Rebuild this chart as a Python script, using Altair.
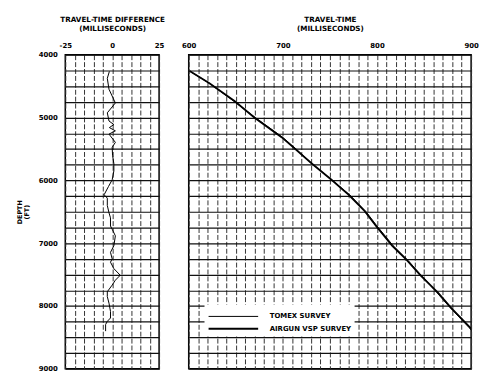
import altair as alt
import pandas as pd

# ---- data ----
diff_depth = [4266, 4376, 4550, 4768, 4925, 5055, 5112, 5160, 5212, 5264, 5395, 5473,
              5600, 5735, 5850, 5991, 6100, 6230, 6283, 6400, 6517, 6597, 6727, 6779,
              6884, 7041, 7146, 7250, 7303, 7406, 7511, 7590, 7668, 7773, 7851, 7956,
              8087, 8192, 8245, 8296, 8401]
diff_ms = [-1.5, -2.6, -1.7, 1.7, -2.6, -1.7, 0.9, -1.5, 1.7, -1.7, 1.7, 0.0,
           0.2, 0.9, 0.9, 0.0, -2.0, -4.3, -2.6, -2.6, -1.7, -0.9, -0.9, 0.0,
           1.7, 0.9, -0.9, 0.0, -0.9, 0.9, 4.3, 1.7, 0.0, -2.6, -2.6, -1.7,
           -0.9, -0.9, -2.6, -3.5, -3.5]

survey_depth = [4260, 4455, 4741, 5003, 5317, 5500, 5735, 5995, 6230, 6492, 6727,
                7038, 7276, 7511, 7793, 8033, 8346, 8400]
airgun_time = [601, 622, 649, 670, 699, 713, 731, 752, 770, 787, 799,
               816, 832, 846, 865, 879, 899, 902]
tomex_time = [601, 622, 648, 671, 700, 714, 731, 752, 771, 788, 800,
              817, 833, 847, 864, 878, 898, 901]

surveys = ["TOMEX SURVEY", "AIRGUN VSP SURVEY"]

depth_ticks = list(range(4000, 9001, 250))
diff_ticks = list(range(-25, 26, 5))
time_ticks = list(range(600, 901, 10))

FONT = "DejaVu Sans"
H = 318

diff_df = pd.DataFrame({"depth": diff_depth, "diff": diff_ms})
rows = []
for d, t in zip(survey_depth, tomex_time):
    rows.append({"depth": d, "time": t, "survey": surveys[0]})
for d, t in zip(survey_depth, airgun_time):
    rows.append({"depth": d, "time": t, "survey": surveys[1]})
surv_df = pd.DataFrame(rows)

yscale = alt.Scale(domain=[4000, 9000], reverse=True, nice=False, zero=False)

left = alt.Chart(diff_df).mark_line(color="black", strokeWidth=1).encode(
    x=alt.X("diff:Q",
            scale=alt.Scale(domain=[-25, 25], nice=False, zero=False),
            axis=alt.Axis(orient="top", values=diff_ticks,
                          labelExpr="datum.value % 25 === 0 ? '' + datum.value : ''",
                          title=["TRAVEL-TIME DIFFERENCE", "(MILLISECONDS)"],
                          ticks=False, domain=False, grid=True,
                          gridDash=[5, 2], gridColor="#333333", gridWidth=1,
                          labelPadding=6, titlePadding=10,
                          labelFlush=False, labelOverlap=False)),
    y=alt.Y("depth:Q", scale=yscale,
            axis=alt.Axis(values=depth_ticks,
                          labelExpr="datum.value % 1000 === 0 ? '' + datum.value : ''",
                          title=["DEPTH", "(FT)"],
                          titleFontSize=6.5, titleLineHeight=6.5,
                          ticks=False, domain=False, grid=True,
                          gridColor="#111111", gridWidth=1.2,
                          labelPadding=8, titlePadding=9,
                          labelFlush=False, labelOverlap=False)),
    order="depth:Q",
).properties(width=95, height=H)

right = alt.Chart(surv_df).mark_line(color="black", clip=True).encode(
    x=alt.X("time:Q",
            scale=alt.Scale(domain=[600, 900], nice=False, zero=False),
            axis=alt.Axis(orient="top", values=time_ticks,
                          labelExpr="datum.value % 100 === 0 ? '' + datum.value : ''",
                          title=["TRAVEL-TIME", "(MILLISECONDS)"],
                          ticks=False, domain=False, grid=True,
                          gridDash=[5, 2], gridColor="#333333", gridWidth=1,
                          labelPadding=6, titlePadding=10,
                          labelFlush=False, labelOverlap=False)),
    y=alt.Y("depth:Q", scale=yscale,
            axis=alt.Axis(values=depth_ticks, labels=False, ticks=False,
                          domain=False, title=None, grid=True,
                          gridColor="#111111", gridWidth=1.2)),
    strokeWidth=alt.StrokeWidth(
        "survey:N",
        scale=alt.Scale(domain=surveys, range=[1.0, 1.8]),
        legend=alt.Legend(orient="none", legendX=141, legendY=253, title=None,
                          symbolType="M-1,0H5", symbolSize=280,
                          symbolStrokeColor="black",
                          labelFont=FONT, labelFontSize=7, labelFontWeight="bold",
                          labelColor="black", labelOffset=44,
                          fillColor="white", padding=3, rowPadding=0)),
    order="depth:Q",
).properties(width=286, height=H)

chart = alt.hconcat(left, right, spacing=30, bounds="flush").properties(
    padding={"left": 8, "top": 4, "right": 0, "bottom": 0}
).configure_view(
    stroke="black", strokeWidth=1.5
).configure_axis(
    labelFont=FONT, labelFontSize=7, labelFontWeight="bold", labelColor="black",
    titleFont=FONT, titleFontSize=7.3, titleFontWeight="bold", titleColor="black",
    titleLineHeight=9,
)

chart.save("out.html", embed_options={"renderer": "svg", "actions": False})
